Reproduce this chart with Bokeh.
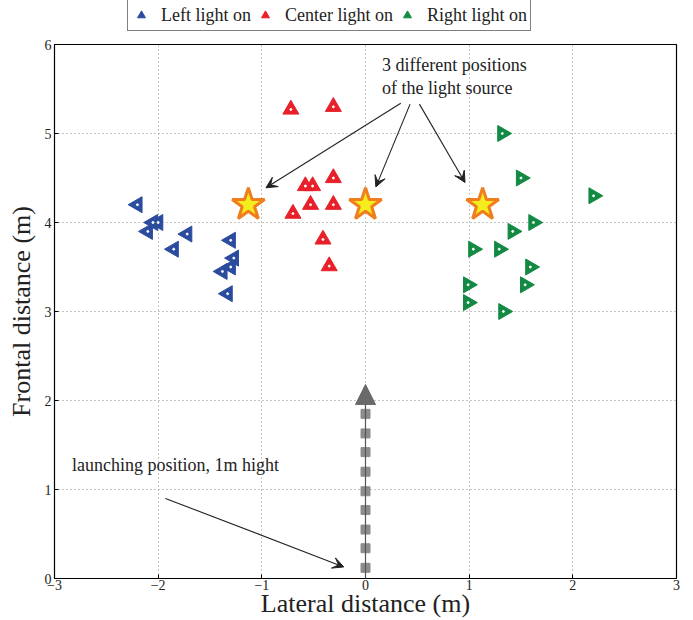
import numpy as np
from bokeh.plotting import figure
from bokeh.layouts import column
from bokeh.models import (Arrow, VeeHead, NormalHead, Label, Legend, LegendItem,
                          FixedTicker, ColumnDataSource)
from bokeh.embed import file_html
from bokeh.resources import INLINE

# ---- data ----
left_x = [-2.2, -2.05, -2.0, -2.1, -1.72, -1.85, -1.3, -1.27, -1.3, -1.38, -1.33]
left_y = [4.2, 4.0, 4.0, 3.9, 3.87, 3.7, 3.8, 3.6, 3.5, 3.45, 3.2]

center_x = [-0.72, -0.31, -0.31, -0.58, -0.51, -0.53, -0.31, -0.70, -0.41, -0.35]
center_y = [5.27, 5.3, 4.5, 4.41, 4.41, 4.2, 4.2, 4.1, 3.81, 3.51]

right_x = [1.32, 1.5, 2.2, 1.62, 1.42, 1.04, 1.29, 1.59, 0.99, 1.54, 0.99, 1.33]
right_y = [5.0, 4.5, 4.3, 4.0, 3.9, 3.7, 3.7, 3.5, 3.3, 3.3, 3.1, 3.0]

source_x = [-1.13, 0.0, 1.13]
source_y = [4.2, 4.2, 4.2]

launch_x = [0, 0, 0, 0, 0, 0, 0, 0, 0]
launch_y = [0.12, 0.34, 0.55, 0.77, 0.98, 1.2, 1.42, 1.63, 1.85]
launch_arrow_top = 2.18

note_arrow_x0 = [0.34, 0.43, 0.52, -1.93]
note_arrow_y0 = [5.34, 5.33, 5.33, 0.90]
note_arrow_x1 = [-0.96, 0.10, 0.96, -0.21]
note_arrow_y1 = [4.39, 4.40, 4.45, 0.13]

series_labels = ["Left light on", "Center light on", "Right light on"]

x_ticks = [-3, -2, -1, 0, 1, 2, 3]
y_ticks = [0, 1, 2, 3, 4, 5, 6]

SERIF = "Liberation Serif"
BLUE = "#2b4c9e"
RED = "#e8202a"
GREEN = "#138a43"
series_styles = [(BLUE, np.pi / 2), (RED, 0.0), (GREEN, -np.pi / 2)]
series_data = [(left_x, left_y), (center_x, center_y), (right_x, right_y)]

# ---------- main figure ----------
p = figure(width=693, height=584, x_range=(-3, 3), y_range=(0, 6),
           output_backend="svg", toolbar_location=None,
           min_border_left=54, min_border_right=17, min_border_top=8, min_border_bottom=40)
p.background_fill_color = "white"
p.outline_line_color = "black"
p.outline_line_width = 1.2

for ax, ticks in ((p.xaxis[0], x_ticks), (p.yaxis[0], y_ticks)):
    ax.ticker = FixedTicker(ticks=ticks)
    ax.major_label_overrides = {t: (str(t).replace("-", "\u2212")) for t in ticks}
    ax.major_tick_in = 4
    ax.major_tick_out = 0
    ax.minor_tick_line_color = None
    ax.axis_line_color = "black"
    ax.major_label_text_font = SERIF
    ax.major_label_text_font_size = "14px"
    ax.major_label_text_color = "#222222"
    ax.axis_label_text_font = SERIF
    ax.axis_label_text_font_size = "26px"
    ax.axis_label_text_font_style = "normal"
    ax.axis_label_text_color = "#222222"
    ax.major_label_standoff = 3

p.xaxis.axis_label = "Lateral distance (m)"
p.yaxis.axis_label = "Frontal distance (m)"
p.xaxis.axis_label_standoff = -4
p.xaxis.major_label_standoff = 1
p.yaxis.axis_label_standoff = 6

for g in (p.xgrid, p.ygrid):
    g.grid_line_color = "#8a8a8a"
    g.grid_line_dash = "1 3"
    g.grid_line_width = 1
p.xgrid.ticker = FixedTicker(ticks=x_ticks)
p.ygrid.ticker = FixedTicker(ticks=y_ticks)

# launching path
p.add_layout(Arrow(x_start=0, y_start=0, x_end=0, y_end=launch_arrow_top,
                   line_color="#555555", line_width=1.2,
                   end=NormalHead(size=20, fill_color="#6a6a6a", line_color="#6a6a6a")))
p.scatter(launch_x, launch_y, marker="square", size=9, color="#8c8c8c")

# annotation arrows
arr_src = ColumnDataSource(dict(x0=note_arrow_x0, y0=note_arrow_y0,
                                x1=note_arrow_x1, y1=note_arrow_y1))
p.add_layout(Arrow(source=arr_src, x_start="x0", y_start="y0", x_end="x1", y_end="y1",
                   line_color="#222222", line_width=1.1,
                   end=VeeHead(size=11, fill_color="#222222", line_color="#222222")))

# light sources
p.scatter(source_x, source_y, marker="star", size=34, fill_color="#f4ec1c",
          line_color="#f07d1e", line_width=3)

for (xs, ys), (col, ang) in zip(series_data, series_styles):
    p.scatter(xs, ys, marker="triangle", angle=ang, size=16,
              fill_color=col, line_color=col, line_width=1)
p.scatter(left_x + center_x + right_x, left_y + center_y + right_y,
          marker="circle", size=2, color="white")

p.add_layout(Label(x=0.16, y=5.77, text="3 different positions", text_font=SERIF,
                   text_font_size="18px", text_baseline="middle", text_color="#222222"))
p.add_layout(Label(x=0.16, y=5.51, text="of the light source", text_font=SERIF,
                   text_font_size="18px", text_baseline="middle", text_color="#222222"))
p.add_layout(Label(x=-2.83, y=1.27, text="launching position, 1m hight", text_font=SERIF,
                   text_font_size="18px", text_baseline="middle", text_color="#222222"))

# ---------- legend strip (same series, out of its visible range) ----------
top = figure(width=693, height=36, x_range=(-3, 3), y_range=(10, 11),
             output_backend="svg", toolbar_location=None,
             min_border_left=54, min_border_right=17, min_border_top=0, min_border_bottom=0)
top.axis.visible = False
top.grid.visible = False
top.outline_line_color = None
items = []
for lab, (xs, ys), (col, ang) in zip(series_labels, series_data, series_styles):
    r = top.scatter(xs, ys, marker="triangle", angle=ang, size=16,
                    fill_color=col, line_color=col, line_width=1)
    items.append(LegendItem(label=lab, renderers=[r]))
legend = Legend(items=items, orientation="horizontal", location=(73, 5),
                label_text_font=SERIF, label_text_font_size="18px",
                label_text_color="#222222",
                label_height=18, glyph_height=24, glyph_width=20,
                label_standoff=10, spacing=4, padding=3, margin=0,
                border_line_color="black", border_line_width=1.2,
                background_fill_alpha=1)
top.add_layout(legend)

layout = column(top, p, spacing=0)
open("out.html", "w").write(file_html(layout, INLINE))
